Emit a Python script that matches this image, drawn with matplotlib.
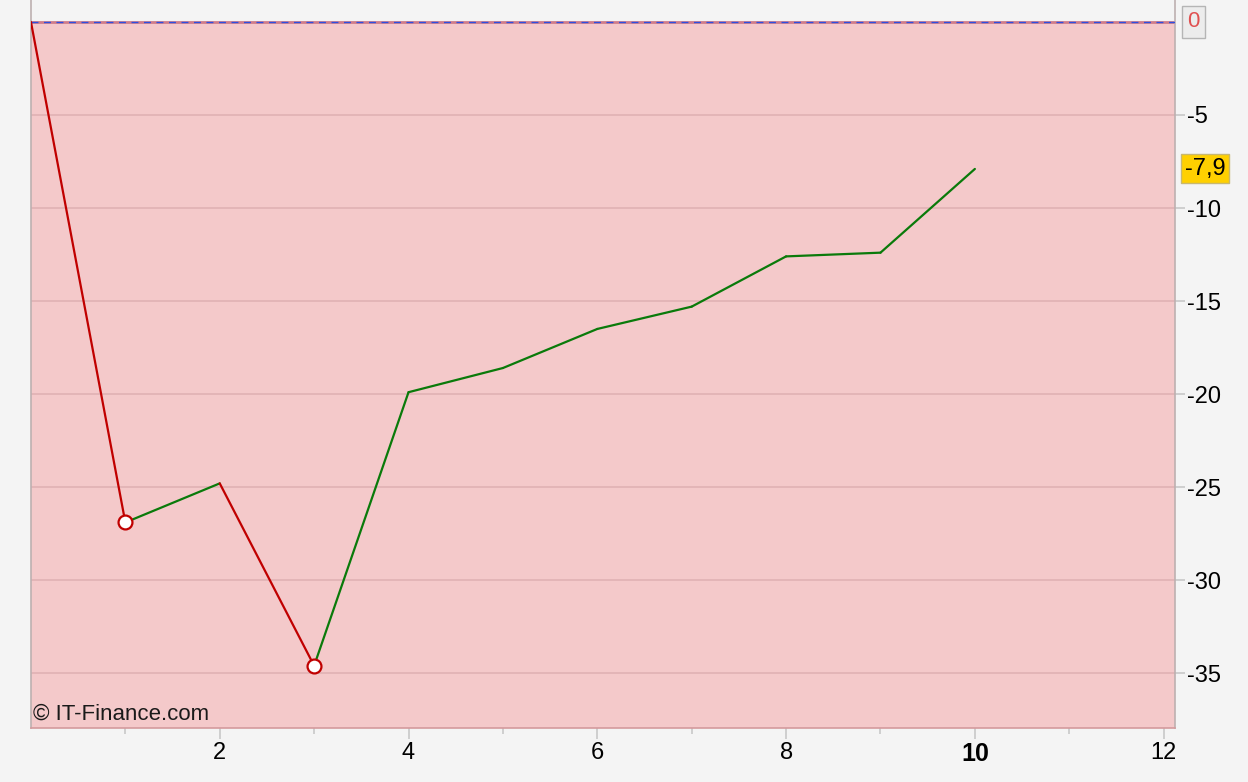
import matplotlib.pyplot as plt
from matplotlib.ticker import FixedLocator

plt.rcParams['font.family'] = ['Liberation Sans', 'DejaVu Sans']

# Data
x_vals = [0, 1, 2, 3, 4, 5, 6, 7, 8, 9, 10]
y_vals = [0, -26.9, -24.8, -34.6, -19.9, -18.6, -16.5, -15.3, -12.6, -12.4, -7.9]
marker_idx = [1, 3]
last_label = "-7,9"
y_ticks = [0, -5, -10, -15, -20, -25, -30, -35]
x_ticks = [2, 4, 6, 8, 10, 12]

UP = "#0a7a0a"
DOWN = "#c00000"

fig = plt.figure(figsize=(12.48, 7.82), dpi=100)
fig.patch.set_facecolor("#f4f4f4")
ax = fig.add_axes([0.0248, 0.069, 0.9167, 0.931])
ax.set_facecolor("#f4f4f4")

ax.set_xlim(0, 12.12)
ax.set_ylim(-37.95, 1.18)

# loss zone below zero
ax.axhspan(-40, 0, color="#f4c9ca", lw=0, zorder=0)

# horizontal grid
for t in y_ticks[1:]:
    ax.axhline(t, color="#deb0b2", lw=1.1, zorder=1)

# zero reference line
ax.axhline(0, color="#cf7d8a", lw=2.0, zorder=2)
ax.axhline(0, color="#2e4fe0", lw=1.0, ls=(0, (5, 4)), zorder=3)

# segments coloured by direction
for i in range(len(x_vals) - 1):
    c = UP if y_vals[i + 1] >= y_vals[i] else DOWN
    ax.plot(x_vals[i:i + 2], y_vals[i:i + 2], color=c, lw=1.6, zorder=4,
            solid_capstyle="round")

ax.plot([x_vals[i] for i in marker_idx], [y_vals[i] for i in marker_idx],
        ls="none", marker="o", ms=10, mfc="white", mec=DOWN, mew=1.6, zorder=5)

# axes styling
ax.spines["top"].set_visible(False)
for s in ["left", "right"]:
    ax.spines[s].set_color("#bdb0b0")
    ax.spines[s].set_linewidth(1.2)
ax.spines["bottom"].set_color("#d49a9d")
ax.spines["bottom"].set_linewidth(1.2)
ax.yaxis.tick_right()
ax.yaxis.set_major_locator(FixedLocator(y_ticks[1:]))
ax.set_yticklabels([str(t) for t in y_ticks[1:]])
ax.xaxis.set_major_locator(FixedLocator(x_ticks))
ax.xaxis.set_minor_locator(FixedLocator([1, 3, 5, 7, 9, 11]))
ax.tick_params(axis="y", length=7, width=1.2, color="#c8c8c8",
               labelsize=17, pad=2)
ax.tick_params(axis="x", which="major", length=8, width=1.2, color="#c8c8c8",
               labelsize=17, pad=2)
ax.tick_params(axis="x", which="minor", length=4, width=1.2, color="#c8c8c8")
for lbl in ax.get_xticklabels():
    if lbl.get_text() == "10":
        lbl.set_fontweight("bold")
        lbl.set_fontsize(18)

# value labels on the right
ax.annotate("0", xy=(1.0, 0), xycoords=("axes fraction", "data"),
            xytext=(9, 0), textcoords="offset points", va="center",
            ha="left", fontsize=16, color="#e05050",
            bbox=dict(boxstyle="square,pad=0.25", fc="#ececec", ec="#b5b5b5"))
ax.annotate(last_label, xy=(1.0, y_vals[-1]), xycoords=("axes fraction", "data"),
            xytext=(7, 0), textcoords="offset points", va="center",
            ha="left", fontsize=17, color="black",
            bbox=dict(boxstyle="square,pad=0.15", fc="#ffd000", ec="#c8b870"))

ax.text(0.002, 0.004, "\u00a9 IT-Finance.com", transform=ax.transAxes,
        fontsize=16, color="#1a1a1a", ha="left", va="bottom")

fig.savefig("out.png", dpi=100, facecolor=fig.get_facecolor())
